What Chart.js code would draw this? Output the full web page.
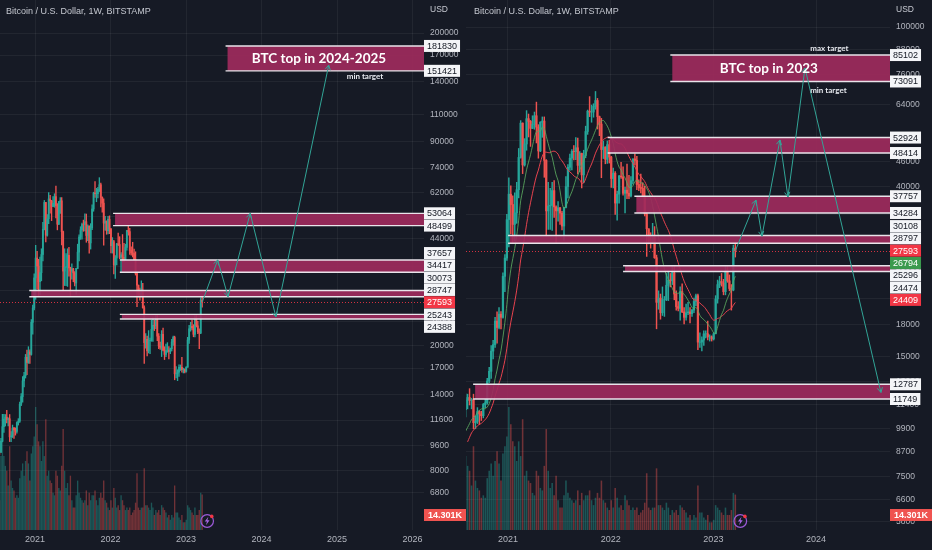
<!DOCTYPE html>
<html>
<head>
<meta charset="utf-8">
<title>BTC weekly - two views</title>
<script src="https://cdn.jsdelivr.net/npm/chart.js@4.4.1/dist/chart.umd.min.js"></script>
<style>
  html, body { margin: 0; padding: 0; background: #161a25; }
  #wrap { position: relative; width: 932px; height: 550px; overflow: hidden; }
  canvas { position: absolute; top: 0; }
  #leftChart { left: 0; }
  #rightChart { left: 466px; }
</style>
</head>
<body>
<div id="wrap">
  <canvas id="leftChart" width="466" height="550"></canvas>
  <canvas id="rightChart" width="466" height="550"></canvas>
</div>
<script>
// Weekly BTCUSD candles (Bitstamp), first week opens 2020-03-30
const firstWeek = '2020-03-30';

const opens = [
  5880, 6780, 6900, 7130, 7680, 8900, 8720, 9680, 8900, 9450, 9750, 9450, 9300, 9010, 9080, 9230, 9160, 9930,
  11050, 11680, 11850, 11650, 11710, 10250, 10330, 10930, 10780, 10670, 11380, 11500, 13030, 13780, 15480, 16070, 18400, 17730, 19150, 18800, 23800, 26450,
  33000, 38200, 36000, 32100, 34300, 39200, 47200, 57500, 45200, 51000, 59000, 58100, 55800, 57100, 60000, 56200, 49000, 57800, 58200, 46400, 34700, 35700, 35800, 39000, 35500, 34700,
  35300, 34250, 31800, 35400, 39900, 44600, 47000, 48900, 48800, 49900, 45100, 48300, 42700, 47700, 54800, 61600, 61300, 61300, 63300, 65500, 59700, 57200, 49400, 50100, 46700, 50800,
  47300, 41800, 43100, 36300, 38200, 42400, 42200, 38400, 39100, 38400, 37800, 41300, 46800, 46400, 40400, 39700, 39500, 37700, 34100, 31300, 29400, 29000, 29900, 26500, 20500, 21000,
  19300, 20800, 20800, 22600, 23300, 23200, 24300, 21500, 20000, 19800, 21800, 19400, 18800, 19300, 19400, 19200, 19600, 20600, 21300, 16300, 16300, 16500, 17100, 17100, 16800, 16800,
  16600, 17100, 20900, 22700, 23100, 22900, 21800, 24600, 23200, 22200, 22000, 28000
];
const highs = [
  7200, 7470, 7200, 7750, 9480, 10070, 9950, 9840, 9740, 10380, 9980, 9800, 9760, 9320, 9470, 9300, 10140, 12100,
  12100, 12080, 12470, 11800, 12080, 10650, 11180, 10990, 10950, 11450, 11720, 13230, 14100, 15970, 16480, 18800, 19400, 19900, 19430, 24300, 27000, 34000,
  41950, 40100, 37850, 38500, 40900, 49700, 58350, 57600, 52600, 61800, 60600, 58400, 60000, 61300, 64900, 57000, 58000, 59600, 59600, 46600, 40900, 39500, 40900, 41300, 35700, 36600,
  35400, 34600, 35400, 42300, 45300, 48100, 49400, 50500, 52900, 52800, 48800, 48400, 49200, 56500, 62000, 67000, 63800, 64300, 69000, 66300, 59900, 59100, 51900, 50200, 51900, 52100,
  47500, 44400, 43500, 38900, 42600, 45900, 44700, 39800, 45400, 42600, 42300, 46800, 48200, 47500, 41500, 42900, 40800, 40000, 34300, 31300, 30600, 32300, 31700, 26900, 21900, 21500,
  22400, 21200, 24200, 24600, 24200, 25200, 25200, 21900, 20600, 22400, 22800, 19900, 20300, 20500, 19900, 19700, 21000, 21500, 21500, 17200, 16800, 17400, 17400, 18400, 17000, 16900,
  17200, 21300, 23300, 23800, 24200, 23400, 25200, 25200, 24000, 22700, 28500, 28900
];
const lows = [
  5860, 6750, 6480, 6770, 7620, 8600, 8200, 8630, 8630, 9270, 8910, 9200, 8830, 8940, 9050, 9010, 9120, 9880,
  10600, 11100, 11350, 11100, 9900, 9900, 10200, 10140, 10380, 10540, 11180, 11400, 12900, 13230, 14800, 15800, 16200, 17600, 17600, 18700, 21800, 26100,
  28200, 30400, 28850, 29200, 32300, 37400, 47000, 43000, 44900, 49200, 53100, 50300, 55700, 55500, 51300, 47000, 48800, 53000, 42100, 30000, 31200, 31200, 31000, 33400, 28800, 32700,
  32100, 31100, 29300, 35300, 37400, 43800, 43900, 46500, 46600, 42900, 43400, 39600, 40800, 47100, 53900, 59700, 57800, 59500, 62300, 55600, 53500, 42000, 46900, 45500, 45600, 45700,
  39700, 39600, 34000, 32900, 36300, 41800, 38000, 34300, 37200, 37200, 37600, 40500, 45200, 39200, 39000, 38500, 37600, 33700, 26700, 28700, 28000, 28900, 26400, 17600, 19700, 18600,
  19000, 18900, 20700, 20700, 22400, 22700, 20800, 19600, 19500, 18500, 19300, 18100, 18500, 19100, 18200, 18900, 19300, 20100, 15600, 15800, 15500, 16000, 16700, 16500, 16400, 16400,
  16500, 17100, 20400, 22300, 22500, 21400, 21400, 23000, 21900, 19600, 21900, 26600
];
const closes = [
  6780, 6900, 7130, 7680, 8900, 8720, 9680, 8900, 9450, 9750, 9450, 9300, 9010, 9080, 9230, 9160, 9930, 11050,
  11680, 11850, 11650, 11710, 10250, 10330, 10930, 10780, 10670, 11380, 11500, 13030, 13780, 15480, 16070, 18400, 17730, 19150, 18800, 23800, 26450, 33000,
  38200, 36000, 32100, 34300, 39200, 47200, 57500, 45200, 51000, 59000, 58100, 55800, 57100, 60000, 56200, 49000, 57800, 58200, 46400, 34700, 35700, 35800, 39000, 35500, 34700, 35300,
  34250, 31800, 35400, 39900, 44600, 47000, 48900, 48800, 49900, 45100, 48300, 42700, 47700, 54800, 61600, 61300, 61300, 63300, 65500, 59700, 57200, 49400, 50100, 46700, 50800, 47300,
  41800, 43100, 36300, 38200, 42400, 42200, 38400, 39100, 38400, 37800, 41300, 46800, 46400, 40400, 39700, 39500, 37700, 34100, 31300, 29400, 29000, 29900, 26500, 20500, 21000, 19300,
  20800, 20800, 22600, 23300, 23200, 24300, 21500, 20000, 19800, 21800, 19400, 18800, 19300, 19400, 19200, 19600, 20600, 21300, 16300, 16300, 16500, 17100, 17100, 16800, 16800, 16600,
  17100, 20900, 22700, 23100, 22900, 21800, 24600, 23200, 22200, 22000, 28000, 27593
];
// weekly volume, thousands of BTC
const volumes = [
  40, 30, 25, 25, 35, 35, 33, 25, 22, 22, 17, 14, 14, 11, 11, 12, 30, 45,
  30, 26, 24, 18, 34, 20, 17, 16, 13, 14, 13, 21, 24, 27, 22, 28, 32, 27, 20, 31, 34, 38,
  50, 43, 36, 34, 28, 36, 30, 45, 22, 24, 20, 19, 15, 14, 24, 22, 17, 16, 26, 41, 24, 17, 19, 14, 22, 12,
  9, 9, 14, 20, 15, 13, 12, 11, 12, 16, 10, 15, 12, 14, 14, 16, 12, 10, 13, 15, 13, 20, 12, 11, 9, 8,
  12, 9, 17, 13, 9, 10, 8, 14, 12, 10, 8, 9, 8, 9, 6, 7, 8, 11, 23, 9, 8, 9, 9, 25, 10, 10,
  9, 8, 11, 9, 6, 8, 7, 8, 6, 10, 9, 8, 7, 5, 6, 4, 6, 5, 18, 7, 7, 5, 4, 6, 3, 3,
  4, 10, 9, 8, 7, 6, 9, 6, 6, 8, 15, 14.301
];

// left view: zones (start as decimal year, price band) and projected path
const leftZoneFrom = [2023.55, 2022.06, 2022.15, 2020.95, 2022.15];
const leftZoneLow  = [151421, 48499, 34417, 28747, 24388];
const leftZoneHigh = [181830, 53064, 37657, 30073, 25243];
const leftMarks = [181830, 151421, 53064, 48499, 37657, 34417, 30073, 28747, 27593, 25243, 24388];
const leftPathX = [2023.42, 2023.556, 2023.85, 2024.19, 2024.89];
const leftPathY = [37657, 28747, 53064, 24800, 158000];
const leftTicks = [200000, 170000, 140000, 110000, 90000, 74000, 62000, 52000, 44000, 36000, 30000, 24000,
  20000, 17000, 14000, 11600, 9600, 8000, 6800];
const leftYears = [2021, 2022, 2023, 2024, 2025, 2026];

// right view
const rightZoneFrom = [2022.60, 2021.99, 2022.25, 2021.02, 2022.14, 2020.68];
const rightZoneLow  = [73091, 48414, 34284, 28797, 24474, 11749];
const rightZoneHigh = [85102, 52924, 37757, 30108, 25296, 12787];
const rightMarks = [85102, 73091, 52924, 48414, 37757, 34284, 30108, 28797, 27593, 26794, 25296, 24474, 24409, 12787, 11749];
const rightPathX = [2023.415, 2023.473, 2023.648, 2023.726, 2023.892, 2024.632];
const rightPathY = [36900, 30000, 52200, 37600, 79000, 12200];
const rightTicks = [100000, 88000, 76000, 64000, 52000, 46000, 40000, 34000, 29000, 25000, 21000,
  18000, 15000, 13000, 11400, 9900, 8700, 7500, 6600, 5800];
const rightYears = [2021, 2022, 2023, 2024];

const currentPrice = 27593;
const greenMark = 26794;
const redMark = 24409;
const lastVolumeText = '14.301K';

Chart.defaults.font.family = '"Liberation Sans", Arial, sans-serif';
Chart.defaults.color = '#b2b5be';

const UP = '#26a69a', DOWN = '#ef5350';
const UP_VOL = 'rgba(38,166,154,0.42)', DOWN_VOL = 'rgba(239,83,80,0.42)';
const ZONE_FILL = 'rgba(158,42,92,0.92)';
const ZONE_EDGE = '#e9e4ea';
const PATH = '#32a597';
const GRID = 'rgba(255,255,255,0.055)';

function weekYear(i) {
  const d = new Date(Date.parse(firstWeek + 'T00:00:00Z') + i * 7 * 86400000);
  const y = d.getUTCFullYear();
  const start = Date.UTC(y, 0, 1), end = Date.UTC(y + 1, 0, 1);
  return y + (d.getTime() - start) / (end - start);
}

const weekX = closes.map((c, i) => weekYear(i));
const lastIdx = closes.length - 1;
const isUp = i => closes[i] >= opens[i];

function sma(n) {
  const out = [];
  for (let i = n - 1; i < closes.length; i++) {
    let s = 0;
    for (let k = i - n + 1; k <= i; k++) s += closes[k];
    out.push({ x: weekX[i], y: s / n });
  }
  return out;
}

// per-pane settings, looked up by canvas id in the plugin
const panes = {
  leftChart: {
    xRange: [2020.536, 2026.152], yRange: [5166, 254960],
    ticks: leftTicks, years: leftYears,
    zoneFrom: leftZoneFrom, zoneLow: leftZoneLow, zoneHigh: leftZoneHigh,
    marks: leftMarks, pathX: leftPathX, pathY: leftPathY,
    ma: false, bodyW: 1.2, wickW: 0.7, volW: 0.7, titleX: 6,
    notes: [
      { text: 'BTC top in 2024-2025', x: 2024.76, y: Math.sqrt(151421 * 181830), font: 'bold 13.5px Lato, sans-serif', color: '#ffffff' },
      { text: 'min target', x: 2025.37, y: 145700, font: 'bold 8px Lato, sans-serif', color: '#e6e8ee' }
    ]
  },
  rightChart: {
    xRange: [2020.591, 2024.72], yRange: [5527, 116830],
    ticks: rightTicks, years: rightYears,
    zoneFrom: rightZoneFrom, zoneLow: rightZoneLow, zoneHigh: rightZoneHigh,
    marks: rightMarks, pathX: rightPathX, pathY: rightPathY,
    ma: true, bodyW: 1.6, wickW: 0.8, volW: 0.9, titleX: 8,
    notes: [
      { text: 'BTC top in 2023', x: 2023.54, y: Math.sqrt(73091 * 85102), font: 'bold 13.5px Lato, sans-serif', color: '#ffffff' },
      { text: 'max target', x: 2024.13, y: 88600, font: 'bold 8px Lato, sans-serif', color: '#e6e8ee' },
      { text: 'min target', x: 2024.12, y: 69600, font: 'bold 8px Lato, sans-serif', color: '#e6e8ee' }
    ]
  }
};

function drawZones(chart, cfg) {
  const { ctx, chartArea: a } = chart;
  const x = chart.scales.x, y = chart.scales.y;
  ctx.save();
  ctx.beginPath();
  ctx.rect(a.left, a.top, a.right - a.left, a.bottom - a.top);
  ctx.clip();

  // current price, dotted
  const yc = Math.round(y.getPixelForValue(currentPrice)) + 0.5;
  ctx.strokeStyle = 'rgba(242,54,69,0.85)';
  ctx.lineWidth = 1;
  ctx.setLineDash([1, 2]);
  ctx.beginPath(); ctx.moveTo(a.left, yc); ctx.lineTo(a.right, yc); ctx.stroke();
  ctx.setLineDash([]);

  cfg.zoneFrom.forEach((from, k) => {
    const x0 = x.getPixelForValue(from);
    const yT = y.getPixelForValue(cfg.zoneHigh[k]);
    const yB = y.getPixelForValue(cfg.zoneLow[k]);
    ctx.fillStyle = ZONE_FILL;
    ctx.fillRect(x0, yT, a.right - x0, yB - yT);
    ctx.strokeStyle = ZONE_EDGE;
    ctx.lineWidth = 1.4;
    ctx.beginPath();
    ctx.moveTo(x0 - 2, yT); ctx.lineTo(a.right, yT);
    ctx.moveTo(x0 - 2, yB); ctx.lineTo(a.right, yB);
    ctx.stroke();
  });
  ctx.restore();
}

function drawArrowheads(chart) {
  const idx = chart.data.datasets.findIndex(d => d.isPath);
  const pts = chart.getDatasetMeta(idx).data;
  const ctx = chart.ctx;
  ctx.save();
  ctx.strokeStyle = PATH;
  ctx.lineWidth = 1;
  for (let k = 1; k < pts.length; k++) {
    const p = pts[k], q = pts[k - 1];
    const ang = Math.atan2(p.y - q.y, p.x - q.x);
    const len = 5.5, spread = 0.5;
    ctx.beginPath();
    ctx.moveTo(p.x - len * Math.cos(ang - spread), p.y - len * Math.sin(ang - spread));
    ctx.lineTo(p.x, p.y);
    ctx.lineTo(p.x - len * Math.cos(ang + spread), p.y - len * Math.sin(ang + spread));
    ctx.stroke();
  }
  ctx.restore();
}

function drawMarks(chart, cfg) {
  const { ctx, chartArea: a } = chart;
  const y = chart.scales.y;
  const h = 12.3;
  const items = cfg.marks.map(v => ({ v, y0: y.getPixelForValue(v) }));
  items.sort((p, q) => p.y0 - q.y0);
  const ai = items.findIndex(it => it.v === currentPrice);
  items[ai].y = items[ai].y0;
  for (let k = ai - 1; k >= 0; k--) items[k].y = Math.min(items[k].y0, items[k + 1].y - h);
  for (let k = ai + 1; k < items.length; k++) items[k].y = Math.max(items[k].y0, items[k - 1].y + h);

  ctx.save();
  ctx.font = '9px "Liberation Sans", Arial, sans-serif';
  ctx.textBaseline = 'middle';
  items.forEach(it => {
    const txt = String(it.v);
    const w = ctx.measureText(txt).width + 6;
    let bg = '#f4f5f8', fg = '#131722';
    if (it.v === currentPrice || (cfg.ma && it.v === redMark)) { bg = '#f23645'; fg = '#ffffff'; }
    if (cfg.ma && it.v === greenMark) { bg = '#3b9a4e'; fg = '#ffffff'; }
    ctx.fillStyle = bg;
    ctx.fillRect(a.right, it.y - 6, w, 12);
    ctx.fillStyle = fg;
    ctx.fillText(txt, a.right + 3, it.y + 0.5);
  });

  // last volume
  ctx.font = 'bold 9px "Liberation Sans", Arial, sans-serif';
  const vw = ctx.measureText(lastVolumeText).width + 8;
  ctx.fillStyle = '#ef5350';
  ctx.fillRect(a.right, a.bottom - 21, vw, 12);
  ctx.fillStyle = '#ffffff';
  ctx.fillText(lastVolumeText, a.right + 4, a.bottom - 14.5);
  ctx.restore();
}

function drawTexts(chart, cfg) {
  const { ctx, chartArea: a } = chart;
  const x = chart.scales.x, y = chart.scales.y;
  ctx.save();
  ctx.textBaseline = 'middle';
  ctx.font = '9px "Liberation Sans", Arial, sans-serif';
  ctx.fillStyle = '#c5c8d0';
  ctx.fillText('Bitcoin / U.S. Dollar, 1W, BITSTAMP', cfg.titleX, 12);
  ctx.font = '8.5px "Liberation Sans", Arial, sans-serif';
  ctx.fillText('USD', a.right + 6, 10);

  ctx.textAlign = 'center';
  cfg.notes.forEach(n => {
    ctx.font = n.font;
    ctx.fillStyle = n.color;
    ctx.fillText(n.text, x.getPixelForValue(n.x), y.getPixelForValue(n.y));
  });

  // replay / lightning badge next to the last bar
  const cx = x.getPixelForValue(weekX[lastIdx]) + 5, cy = a.bottom - 9;
  ctx.strokeStyle = '#9c5ad8';
  ctx.lineWidth = 1.2;
  ctx.beginPath(); ctx.arc(cx, cy, 6.3, 0, Math.PI * 2); ctx.stroke();
  ctx.fillStyle = '#a865e6';
  ctx.beginPath();
  ctx.moveTo(cx + 1.2, cy - 4.2); ctx.lineTo(cx - 2.4, cy + 0.6); ctx.lineTo(cx - 0.2, cy + 0.6);
  ctx.lineTo(cx - 1.2, cy + 4.2); ctx.lineTo(cx + 2.4, cy - 0.8); ctx.lineTo(cx + 0.2, cy - 0.8);
  ctx.closePath(); ctx.fill();
  ctx.fillStyle = '#f23645';
  ctx.beginPath(); ctx.arc(cx + 4.6, cy - 4.6, 1.8, 0, Math.PI * 2); ctx.fill();
  ctx.restore();
}

const overlay = {
  id: 'overlay',
  beforeDatasetDraw(chart, args) {
    if (chart.data.datasets[args.index].isPath) drawZones(chart, panes[chart.canvas.id]);
  },
  afterDatasetsDraw(chart) { drawArrowheads(chart); },
  afterDraw(chart) {
    const cfg = panes[chart.canvas.id];
    drawMarks(chart, cfg);
    drawTexts(chart, cfg);
  }
};

function buildChart(id) {
  const cfg = panes[id];
  const datasets = [
    {
      type: 'line', isPath: true, order: 0, clip: 0,
      data: [{ x: weekX[lastIdx], y: closes[lastIdx] }].concat(cfg.pathX.map((x, i) => ({ x, y: cfg.pathY[i] }))),
      borderColor: PATH, borderWidth: 1, pointRadius: 0, tension: 0
    },
    {
      type: 'bar', order: 2, grouped: false, clip: 0, barThickness: cfg.bodyW,
      data: weekX.map((x, i) => ({ x, y: [opens[i], closes[i]] })),
      backgroundColor: c => isUp(c.dataIndex) ? UP : DOWN
    },
    {
      type: 'bar', order: 3, grouped: false, clip: 0, barThickness: cfg.wickW,
      data: weekX.map((x, i) => ({ x, y: [lows[i], highs[i]] })),
      backgroundColor: c => isUp(c.dataIndex) ? UP : DOWN
    },
    {
      type: 'bar', order: 4, grouped: false, clip: 0, barThickness: cfg.volW, yAxisID: 'yv',
      data: weekX.map((x, i) => ({ x, y: volumes[i] })),
      backgroundColor: c => isUp(c.dataIndex) ? UP_VOL : DOWN_VOL
    }
  ];
  if (cfg.ma) {
    datasets.push({ type: 'line', order: 1, clip: 0, data: sma(10), borderColor: 'rgba(92,170,96,0.85)', borderWidth: 1, pointRadius: 0, tension: 0.3 });
    datasets.push({ type: 'line', order: 1, clip: 0, data: sma(20), borderColor: '#e8434f', borderWidth: 1, pointRadius: 0, tension: 0.3 });
  }

  return new Chart(document.getElementById(id), {
    type: 'bar',
    data: { datasets },
    options: {
      responsive: false,
      animation: false,
      events: [],
      layout: { padding: 0 },
      plugins: { legend: { display: false }, tooltip: { enabled: false } },
      scales: {
        x: {
          type: 'linear', offset: false, bounds: 'data',
          min: cfg.xRange[0], max: cfg.xRange[1],
          grid: { color: GRID, drawTicks: false, offset: false },
          border: { display: false },
          afterBuildTicks: s => { s.ticks = cfg.years.map(v => ({ value: v })); },
          ticks: { color: '#b2b5be', font: { size: 9 }, padding: 4, autoSkip: false, maxRotation: 0, callback: v => String(v) },
          afterFit: s => { s.height = 20; s.paddingLeft = 0; s.paddingRight = 0; }
        },
        y: {
          type: 'logarithmic', position: 'right', bounds: 'data',
          min: cfg.yRange[0], max: cfg.yRange[1],
          grid: { color: GRID, drawTicks: false },
          border: { display: false },
          afterBuildTicks: s => { s.ticks = cfg.ticks.map(v => ({ value: v })); },
          ticks: { color: '#b2b5be', font: { size: 8.5 }, padding: 6, autoSkip: false, callback: v => String(v) },
          afterFit: s => { s.width = 42; s.paddingTop = 0; s.paddingBottom = 0; }
        },
        yv: { type: 'linear', display: false, min: 0, max: 216 }
      }
    },
    plugins: [overlay]
  });
}

buildChart('leftChart');
buildChart('rightChart');
</script>
</body>
</html>
